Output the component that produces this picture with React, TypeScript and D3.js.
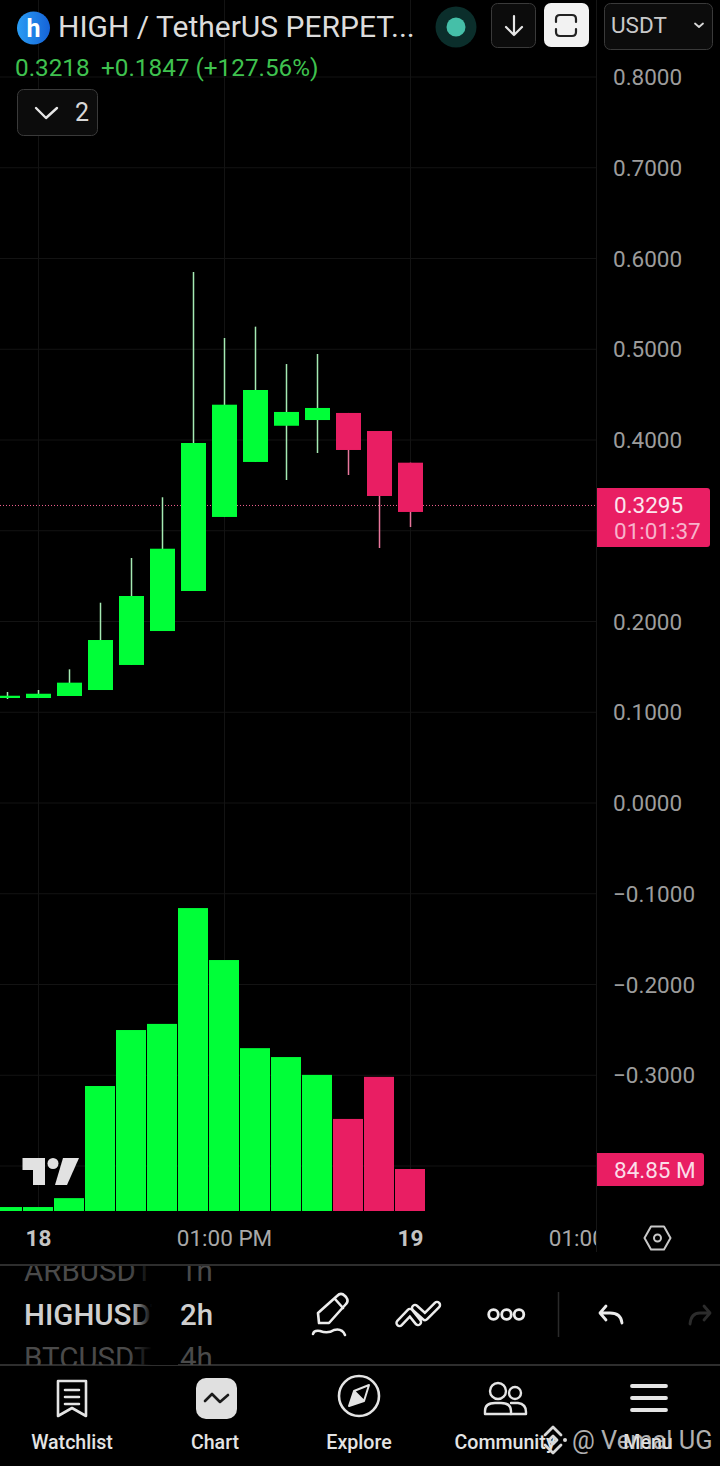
import React, { useEffect, useRef } from 'react';
import * as d3 from 'd3';

const opens = [0.1157, 0.1157, 0.1179, 0.1245, 0.1521, 0.1895, 0.2336, 0.3152, 0.3758, 0.4157, 0.422, 0.4298, 0.4099, 0.375];
const closes = [0.1182, 0.1204, 0.1326, 0.1796, 0.2281, 0.2802, 0.3967, 0.4389, 0.4551, 0.4309, 0.4353, 0.389, 0.3383, 0.3207];
const highs = [0.1223, 0.1245, 0.1473, 0.2207, 0.27, 0.3369, 0.5851, 0.5124, 0.5249, 0.4837, 0.4948, 0.4298, 0.4099, 0.375];
const lows = [0.1146, 0.1157, 0.1179, 0.1245, 0.1521, 0.1895, 0.2336, 0.3152, 0.3758, 0.3559, 0.3857, 0.3614, 0.281, 0.3041];
const volumes = [8, 8, 26, 252.5, 365.6, 378, 612, 507, 329, 311, 275, 186, 271, 84.85];

const priceTicks = [0.8, 0.7, 0.6, 0.5, 0.4, 0.3, 0.2, 0.1, 0, -0.1, -0.2, -0.3];
const gridPrices = [...priceTicks, -0.4];
const timeSlots = [1, 7, 13, 19];
const timeLabels = ['18', '01:00 PM', '19', '01:00 PM'];
const boldTimes = ['18', '19'];
const lastPrice = 0.3295;

const GREEN = '#00ff38';
const RED = '#e91e63';
const FONT = 'Roboto, sans-serif';

const App = () => {
  const svgRef = useRef<SVGSVGElement>(null);

  useEffect(() => {
    document.body.style.margin = '0';
    document.body.style.background = '#000';

    const svg = d3.select(svgRef.current);
    svg.selectAll('*').remove();

    const x = d3.scaleLinear().domain([0, 1]).range([7.5, 38.5]);
    const y = d3.scaleLinear().domain([0, 0.8]).range([803, 77]);
    const yVol = d3.scaleLinear().domain([0, 84.85]).range([1211, 1169]);
    const fmt = (d: number) => d3.format('.4f')(d).replace('-', '\u2212');

    const defs = svg.append('defs');
    defs.append('clipPath').attr('id', 'plot').append('rect').attr('width', 597).attr('height', 1252);
    defs.append('clipPath').attr('id', 'picker').append('rect').attr('y', 1266).attr('width', 720).attr('height', 99);
    const fade = defs.append('linearGradient').attr('id', 'fade');
    fade.append('stop').attr('offset', '0').attr('stop-color', '#000').attr('stop-opacity', 0);
    fade.append('stop').attr('offset', '1').attr('stop-color', '#000').attr('stop-opacity', 1);
    const logo = defs.append('linearGradient').attr('id', 'logo');
    logo.append('stop').attr('offset', '0').attr('stop-color', '#2a9df4');
    logo.append('stop').attr('offset', '1').attr('stop-color', '#1563d8');

    svg.append('rect').attr('width', 720).attr('height', 1466).attr('fill', '#000');

    // grid
    const grid = svg.append('g').attr('stroke', '#131313').attr('stroke-width', 1);
    grid.selectAll('line.h').data(gridPrices).enter().append('line').attr('class', 'h')
      .attr('x1', 0).attr('x2', 596).attr('y1', d => y(d)).attr('y2', d => y(d));
    grid.selectAll('line.v').data(timeSlots).enter().append('line').attr('class', 'v')
      .attr('x1', d => x(d)).attr('x2', d => x(d)).attr('y1', 0).attr('y2', 1211);

    // last price line
    svg.append('line').attr('x1', 0).attr('x2', 596).attr('y1', y(lastPrice) + 1.5).attr('y2', y(lastPrice) + 1.5)
      .attr('stroke', '#f0608f').attr('stroke-width', 1).attr('stroke-dasharray', '1 2');

    // volume
    const colorOf = (i: number) => (closes[i] >= opens[i] ? GREEN : RED);
    svg.append('g').selectAll('rect').data(volumes).enter().append('rect')
      .attr('x', (_, i) => x(i) - 15.5)
      .attr('width', 30)
      .attr('y', d => yVol(d))
      .attr('height', d => yVol(0) - yVol(d))
      .attr('fill', (_, i) => colorOf(i));

    // candles
    const candles = svg.append('g');
    candles.selectAll('line').data(opens).enter().append('line')
      .attr('x1', (_, i) => x(i)).attr('x2', (_, i) => x(i))
      .attr('y1', (_, i) => y(highs[i])).attr('y2', (_, i) => y(lows[i]))
      .attr('stroke', (_, i) => (colorOf(i) === GREEN ? '#a5eab3' : '#e8779c'))
      .attr('stroke-width', 1.5);
    candles.selectAll('rect').data(opens).enter().append('rect')
      .attr('x', (_, i) => Math.max(x(i) - 12.5, 0))
      .attr('width', (_, i) => x(i) + 12.5 - Math.max(x(i) - 12.5, 0))
      .attr('y', (d, i) => y(Math.max(d, closes[i])))
      .attr('height', (d, i) => Math.abs(y(d) - y(closes[i])))
      .attr('fill', (_, i) => colorOf(i));

    // price axis
    const yAxis = svg.append('g').attr('transform', 'translate(613,0.5)')
      .call(d3.axisRight(y).tickValues(priceTicks).tickFormat(d => fmt(+d)).tickSize(0).tickPadding(0));
    yAxis.select('.domain').remove();
    yAxis.selectAll('text').attr('fill', '#9c9c9c').attr('font-family', FONT).attr('font-size', 22.5);

    // time axis
    const xAxis = svg.append('g').attr('transform', 'translate(-0.5,1230)').attr('clip-path', 'url(#plot)')
      .call(d3.axisBottom(x).tickValues(timeSlots).tickFormat((_, i) => timeLabels[i]).tickSize(0).tickPadding(0));
    xAxis.select('.domain').remove();
    xAxis.selectAll('text')
      .attr('font-family', FONT)
      .attr('font-size', 22.5)
      .attr('fill', (_, i) => (boldTimes.includes(timeLabels[i]) ? '#c4c4c4' : '#a8a8a8'))
      .attr('font-weight', (_, i) => (boldTimes.includes(timeLabels[i]) ? 700 : 400));

    // price tags
    svg.append('path').attr('d', 'M597 488H707a3 3 0 0 1 3 3V544a3 3 0 0 1 -3 3H597Z').attr('fill', RED);
    svg.append('path').attr('d', 'M597 1153H701a3 3 0 0 1 3 3V1183a3 3 0 0 1 -3 3H597Z').attr('fill', RED);
    const text = (t: string, tx: number, ty: number, size: number, fill: string, extra: Record<string, string | number> = {}) => {
      const el = svg.append('text').attr('x', tx).attr('y', ty).attr('font-family', FONT).attr('font-size', size).attr('fill', fill).text(t);
      Object.entries(extra).forEach(([k, v]) => el.attr(k, v));
      return el;
    };
    text('0.3295', 614, 513, 22.5, '#fbe6ee');
    text('01:01:37', 614, 539, 22.5, '#f7b3cb');
    text('84.85 M', 614, 1178, 22.5, '#fbdde8');

    // header
    svg.append('circle').attr('cx', 33.5).attr('cy', 28).attr('r', 16.5).attr('fill', 'url(#logo)');
    text('h', 33.5, 37, 25, '#fff', { 'text-anchor': 'middle', 'font-weight': 700 });
    text('HIGH / TetherUS PERPET...', 58, 36.5, 30, '#dcdcdc');
    text('0.3218', 15, 75.5, 24.3, '#3fc24f');
    text('+0.1847 (+127.56%)', 101, 75.5, 24.3, '#3fc24f');
    svg.append('circle').attr('cx', 456).attr('cy', 27).attr('r', 20.5).attr('fill', '#0b2e2b');
    svg.append('circle').attr('cx', 456).attr('cy', 27).attr('r', 9.5).attr('fill', '#45bfa8');
    const box = (bx: number, by: number, w: number, h: number, fill = '#0c0c0c', stroke = '#3a3a3a') =>
      svg.append('rect').attr('x', bx).attr('y', by).attr('width', w).attr('height', h).attr('rx', 6).attr('fill', fill).attr('stroke', stroke);
    const icon = (d: string, stroke = '#e6e6e6', w = 2.2) =>
      svg.append('path').attr('d', d).attr('fill', 'none').attr('stroke', stroke).attr('stroke-width', w).attr('stroke-linecap', 'round').attr('stroke-linejoin', 'round');
    box(491.5, 3.5, 44, 44);
    icon('M514 16V35M506 27L514 35L522 27');
    svg.append('rect').attr('x', 544).attr('y', 3).attr('width', 45).attr('height', 44).attr('rx', 7).attr('fill', '#f2f2f2');
    icon('M556 22V19Q556 15 560 15H572Q576 15 576 19V22M556 29V32Q556 36 560 36H572Q576 36 576 32V29', '#222');
    box(604.5, 3.5, 108, 46);
    text('USDT', 611, 33, 22.5, '#c9c9c9');
    icon('M695 23.5L699 27L703 23.5', '#d8d8d8', 1.8);
    box(17.5, 89.5, 80, 46);
    icon('M36 108L46 118L57 108', '#e6e6e6', 2.4);
    text('2', 75, 121, 25, '#d8d8d8');

    // tradingview logo
    svg.append('path').attr('d', 'M22.5 1158H45V1185H33V1170H22.5Z').attr('fill', '#e2e2e2');
    svg.append('circle').attr('cx', 53).attr('cy', 1163.5).attr('r', 5.5).attr('fill', '#e2e2e2');
    svg.append('path').attr('d', 'M63 1158H79L67 1185H55Z').attr('fill', '#e2e2e2');

    // settings hexagon
    icon('M644.5 1238L651 1226.5H664L670.5 1238L664 1249.5H651Z', '#c8c8c8', 2);
    svg.append('circle').attr('cx', 657.5).attr('cy', 1238).attr('r', 3.5).attr('fill', 'none').attr('stroke', '#c8c8c8').attr('stroke-width', 2);

    // separators
    svg.append('line').attr('x1', 596.5).attr('x2', 596.5).attr('y1', 0).attr('y2', 1252).attr('stroke', '#161616');
    svg.append('line').attr('x1', 0).attr('x2', 720).attr('y1', 1265).attr('y2', 1265).attr('stroke', '#2e2e2e').attr('stroke-width', 2);
    svg.append('line').attr('x1', 0).attr('x2', 720).attr('y1', 1365).attr('y2', 1365).attr('stroke', '#2e2e2e').attr('stroke-width', 2);
    svg.append('line').attr('x1', 558.5).attr('x2', 558.5).attr('y1', 1292).attr('y2', 1337).attr('stroke', '#2a2a2a').attr('stroke-width', 1.5);

    // symbol / interval picker
    const picker = svg.append('g').attr('clip-path', 'url(#picker)');
    const pick = (t: string, px: number, py: number, fill: string, weight = 400, size = 29.5) =>
      picker.append('text').attr('x', px).attr('y', py).attr('font-family', FONT).attr('font-size', size).attr('font-weight', weight).attr('fill', fill).text(t);
    pick('ARBUSDT', 24, 1281, '#4a4a4a');
    pick('1h', 180, 1281, '#4a4a4a');
    pick('HIGHUSDT', 24, 1325, '#cfcfcf', 500);
    pick('2h', 180, 1325, '#cfcfcf', 500);
    pick('BTCUSDT', 24, 1368, '#4a4a4a');
    pick('4h', 180, 1368, '#4a4a4a');
    picker.append('rect').attr('x', 130).attr('y', 1266).attr('width', 22).attr('height', 99).attr('fill', 'url(#fade)');
    picker.append('rect').attr('x', 152).attr('y', 1266).attr('width', 26).attr('height', 99).attr('fill', '#000');

    // drawing tools
    icon('M319 1323L318 1313L337 1296Q341 1292 345 1296L346 1297Q349 1301 346 1304L329 1323Z M335 1299L343 1308', '#ececec', 2.6);
    icon('M313 1334Q314 1330 320 1331Q328 1334 334 1330Q342 1328 345 1335', '#ececec', 2.6);
    const zigzag = 'M399.5 1323L410 1312L418 1322M415 1308L425 1317L437 1305';
    icon(zigzag, '#ececec', 8.5);
    icon(zigzag, '#000', 3.6);
    [493.5, 506.5, 519].forEach(cx => {
      svg.append('circle').attr('cx', cx).attr('cy', 1314.5).attr('r', 4.8).attr('fill', 'none').attr('stroke', '#ececec').attr('stroke-width', 2.8);
    });
    icon('M600 1313H610Q621 1313 622 1323M606 1306L600 1313L606 1320', '#ececec', 2.8);
    icon('M710 1313H700Q691 1313 690 1324M704 1306L710 1313L704 1320', '#2c2c2c', 2.8);

    // bottom tabs
    const tab = (t: string, tx: number) => text(t, tx, 1449, 19.6, '#e4e4e4', { 'text-anchor': 'middle', 'font-weight': 500 });
    tab('Watchlist', 72);
    tab('Chart', 215);
    tab('Explore', 359);
    tab('Community', 505);
    tab('Menu', 648);
    icon('M58 1381H86V1416L72 1408L58 1416Z M65 1390H79M65 1397H79M65 1404H79', '#e4e4e4', 2.6);
    svg.append('rect').attr('x', 196).attr('y', 1378).attr('width', 41).attr('height', 41).attr('rx', 10).attr('fill', '#e0e0e0');
    icon('M205 1401L212 1394L220 1402L228 1395', '#1a1a1a', 2.6);
    svg.append('circle').attr('cx', 359).attr('cy', 1396).attr('r', 20).attr('fill', 'none').attr('stroke', '#e4e4e4').attr('stroke-width', 2.6);
    icon('M349 1406L354 1391L369 1385L364 1401Z M354 1391L364 1401', '#e4e4e4', 2);
    svg.append('path').attr('d', 'M349 1406L354 1391L364 1401Z').attr('fill', '#e4e4e4');
    svg.append('circle').attr('cx', 498).attr('cy', 1391).attr('r', 8).attr('fill', 'none').attr('stroke', '#e4e4e4').attr('stroke-width', 2.4);
    svg.append('circle').attr('cx', 515).attr('cy', 1393).attr('r', 6).attr('fill', 'none').attr('stroke', '#e4e4e4').attr('stroke-width', 2.4);
    icon('M485 1414V1411Q485 1403 495 1403H501Q511 1403 511 1411V1414Z', '#e4e4e4', 2.4);
    icon('M511 1403H518Q526 1404 526 1412V1414H511', '#e4e4e4', 2.4);
    icon('M632 1386H666M632 1398H666M632 1410H666', '#e4e4e4', 3.8);

    // watermark
    icon('M545 1435L553 1427L561 1435M545 1445L553 1453L561 1445M553 1436L557 1440L553 1444L549 1440Z', '#d8d8d8', 2.8);
    svg.append('circle').attr('cx', 565).attr('cy', 1440).attr('r', 2).attr('fill', '#d8d8d8');
    text('@ Vemal UG', 572, 1449, 25.4, '#cfcfcf', { opacity: 0.85 });
  }, []);

  return <svg ref={svgRef} width={720} height={1466} style={{ display: 'block' }} />;
};

export default App;
